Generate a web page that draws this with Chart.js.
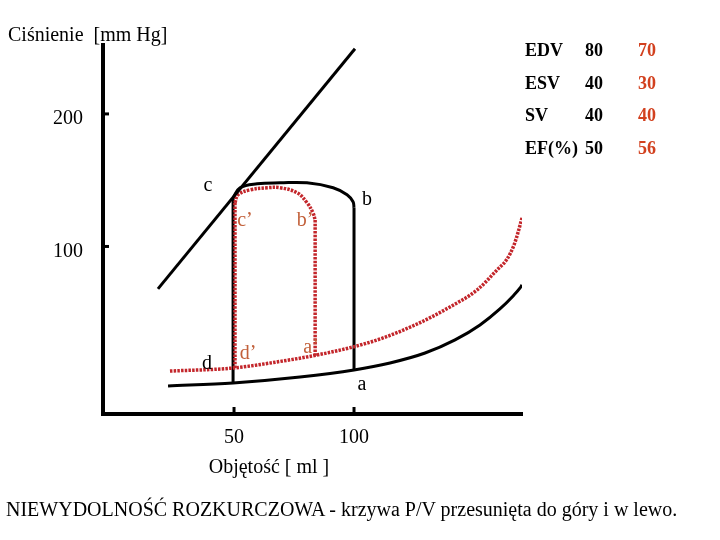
<!DOCTYPE html>
<html>
<head>
<meta charset="utf-8">
<script src="https://cdn.jsdelivr.net/npm/chart.js@4.4.0/dist/chart.umd.min.js"></script>
<style>
  html, body { margin: 0; padding: 0; background: #fff; }
  #wrap { position: relative; width: 720px; height: 540px; font-family: 'Liberation Serif', 'Times New Roman', serif; color: #000; }
  #pv { position: absolute; left: 0; top: 0; }
  .t { position: absolute; white-space: pre; line-height: 1; font-size: 20px; transform: translate(-50%, -50%); }
  .l { position: absolute; white-space: pre; line-height: 1; font-size: 20px; }
  .red { color: #c2603a; }
  #tbl { position: absolute; left: 525px; top: 34px; border-collapse: collapse; font-weight: bold; font-size: 18px; }
  #tbl td { padding: 0; height: 32.5px; line-height: 1; }
  #tbl td.v { color: #d2401e; }
</style>
</head>
<body>
<div id="wrap">
  <canvas id="pv" width="720" height="540"></canvas>
  <div class="l" style="left:8px; top:24px;">Ciśnienie  [mm Hg]</div>
  <table id="tbl"></table>
  <div class="t" style="left:208px; top:184px;">c</div>
  <div class="t" style="left:367px; top:198px;">b</div>
  <div class="t red" style="left:245px; top:219px;">c’</div>
  <div class="t red" style="left:305px; top:219px;">b’</div>
  <div class="t" style="left:207px; top:362px;">d</div>
  <div class="t red" style="left:248px; top:352px;">d’</div>
  <div class="t red" style="left:311px; top:346px;">a’</div>
  <div class="t" style="left:362px; top:383px;">a</div>
  <div class="t" style="left:269px; top:466px;">Objętość [ ml ]</div>
  <div class="l" style="left:6px; top:499px;">NIEWYDOLNOŚĆ ROZKURCZOWA - krzywa P/V przesunięta do góry i w lewo.</div>
</div>
<script>
// axis range and ticks
const X_MIN = -4.6, X_MAX = 170;
const Y_MIN = -26.4, Y_MAX = 252;
const X_TICKS = [50, 100];
const Y_TICKS = [100, 200];

// table on the right: label, normal, diastolic failure
const ROW_NAMES = ['EDV', 'ESV', 'SV', 'EF(%)'];
const NORMAL = [80, 40, 40, 50];
const FAILURE = [70, 30, 40, 56];

// end-systolic pressure-volume line
const ESPVR_V = [18.3, 100.4];
const ESPVR_P = [68, 249.2];

// normal loop (black)
const LOOP_LEFT_V = [49.6, 49.6];
const LOOP_LEFT_P = [-3, 136.7];
const LOOP_TOP_V = [49.6, 52.5, 59.6, 69.2, 80.4, 91.3, 97.1, 99.6, 100];
const LOOP_TOP_P = [136.7, 144.3, 147.3, 148, 148, 144.3, 139, 133.7, 129.2];
const LOOP_RIGHT_V = [100, 100];
const LOOP_RIGHT_P = [129.2, 6.8];
const EDPVR_V = [22.5, 49.6, 77.5, 100, 115, 129.6, 142.1, 152.5, 160.8, 166.3, 169.2, 170];
const EDPVR_P = [-5.3, -3, 1.5, 6.8, 12.1, 19.6, 29.5, 40.8, 52.9, 62.7, 68.7, 71];

// diastolic failure loop (red, dotted)
const RLOOP_LEFT_V = [50.4, 50.4];
const RLOOP_LEFT_P = [8.3, 133];
const RLOOP_TOP_V = [50.4, 51.7, 56.7, 63.8, 69.2, 76.3, 80.4, 82.9, 83.8];
const RLOOP_TOP_P = [133, 139, 142.7, 144.3, 144.3, 140.5, 133, 125.4, 120];
const RLOOP_RIGHT_V = [83.8, 83.8];
const RLOOP_RIGHT_P = [120, 17.5];
const REDPVR_V = [23.3, 49.6, 70.4, 84.6, 99.6, 112.1, 126.3, 140, 151.3, 159.6, 163.8, 166.7, 168.3, 170];
const REDPVR_P = [6, 8.3, 13.6, 18.1, 24.2, 31, 41.5, 54.4, 67.2, 82.3, 90.6, 101.2, 110.3, 121.6];

const tbl = document.getElementById('tbl');
ROW_NAMES.forEach((n, i) => {
    const tr = document.createElement('tr');
    tr.innerHTML = '<td style="width:60px">' + n + '</td><td style="width:53px">' + NORMAL[i] + '</td><td class="v">' + FAILURE[i] + '</td>';
    tbl.appendChild(tr);
});

function pts(vs, ps) {
    return vs.map((v, i) => ({ x: v, y: ps[i] }));
}

const BLACK = '#000000';
const RED = '#c3262b';

function black(vs, ps, tension, mono) {
    return {
        data: pts(vs, ps), borderColor: BLACK, borderWidth: 3, tension: tension,
        cubicInterpolationMode: mono ? 'monotone' : 'default', showLine: true, pointRadius: 0
    };
}
function red(vs, ps, tension, mono) {
    return {
        data: pts(vs, ps), borderColor: RED, borderWidth: 3.5, borderDash: [2.5, 1.2], tension: tension,
        cubicInterpolationMode: mono ? 'monotone' : 'default', showLine: true, pointRadius: 0
    };
}

const inwardTicks = {
    id: 'inwardTicks',
    afterDraw(chart) {
        const { ctx, chartArea, scales: { x, y } } = chart;
        ctx.save();
        ctx.strokeStyle = BLACK;
        ctx.lineWidth = 3;
        x.ticks.forEach(t => {
            const px = x.getPixelForValue(t.value);
            ctx.beginPath();
            ctx.moveTo(px, chartArea.bottom);
            ctx.lineTo(px, chartArea.bottom - 7);
            ctx.stroke();
        });
        y.ticks.forEach(t => {
            const py = y.getPixelForValue(t.value);
            ctx.beginPath();
            ctx.moveTo(chartArea.left, py);
            ctx.lineTo(chartArea.left + 6, py);
            ctx.stroke();
        });
        ctx.restore();
    }
};

new Chart(document.getElementById('pv'), {
    type: 'scatter',
    data: {
        datasets: [
            black(ESPVR_V, ESPVR_P, 0),
            red(REDPVR_V, REDPVR_P, 0, true),
            red(RLOOP_LEFT_V, RLOOP_LEFT_P, 0),
            red(RLOOP_TOP_V, RLOOP_TOP_P, 0.4),
            red(RLOOP_RIGHT_V, RLOOP_RIGHT_P, 0),
            black(LOOP_LEFT_V, LOOP_LEFT_P, 0),
            black(LOOP_TOP_V, LOOP_TOP_P, 0.4),
            black(LOOP_RIGHT_V, LOOP_RIGHT_P, 0),
            black(EDPVR_V, EDPVR_P, 0, true)
        ]
    },
    options: {
        responsive: false,
        animation: false,
        layout: { padding: { top: 45, right: 198, bottom: 0, left: 0 } },
        plugins: {
            legend: { display: false },
            tooltip: { enabled: false }
        },
        scales: {
            x: {
                type: 'linear',
                min: X_MIN,
                max: X_MAX,
                afterBuildTicks: s => { s.ticks = X_TICKS.map(v => ({ value: v })); },
                afterFit: s => { s.height = 126; },
                grid: { drawOnChartArea: false, drawTicks: false },
                border: { color: BLACK, width: 4 },
                ticks: { color: BLACK, padding: 12, font: { family: 'Liberation Serif', size: 20 } }
            },
            y: {
                type: 'linear',
                min: Y_MIN,
                max: Y_MAX,
                afterBuildTicks: s => { s.ticks = Y_TICKS.map(v => ({ value: v })); },
                afterFit: s => { s.width = 103; },
                grid: { drawOnChartArea: false, drawTicks: false },
                border: { color: BLACK, width: 4 },
                ticks: { color: BLACK, padding: 20, labelOffset: 5, font: { family: 'Liberation Serif', size: 20 } }
            }
        }
    },
    plugins: [inwardTicks]
});
</script>
</body>
</html>
